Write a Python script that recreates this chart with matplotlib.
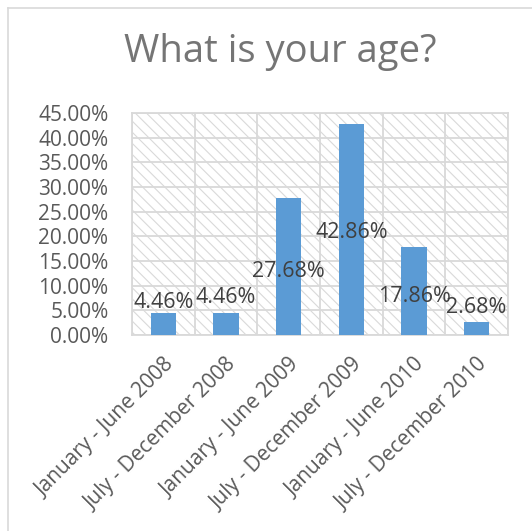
import matplotlib
matplotlib.use("Agg")
import matplotlib.pyplot as plt
from matplotlib.patches import Rectangle
from matplotlib.lines import Line2D
import numpy as np

categories = [
    "January - June 2008",
    "July - December 2008",
    "January - June 2009",
    "July - December 2009",
    "January - June 2010",
    "July - December 2010",
]
shares = [4.46, 4.46, 27.68, 42.86, 17.86, 2.68]
# baseline heights (in % units) where each value label sits
label_baseline = [5.5, 6.5, 11.8, 19.7, 6.7, 4.5]
yticks = np.arange(0, 46, 5)

plt.rcParams["font.family"] = ["Open Sans", "DejaVu Sans"]
plt.rcParams["hatch.linewidth"] = 0.8

fig = plt.figure(figsize=(5.32, 5.31), dpi=100)
ax = fig.add_axes([132 / 532, 196 / 531, 376 / 532, 222 / 531])

grid_c = "#d9d9d9"
x = np.arange(len(categories))

# hatched plot-area background
ax.patch.set_visible(False)
bg = Rectangle((0, 0), 1, 1, transform=ax.transAxes, facecolor="white",
               edgecolor=grid_c, hatch="\\\\\\", linewidth=0, zorder=0)
ax.add_patch(bg)

ax.bar(x, shares, width=0.4, color="#5b9bd5", zorder=3)

ax.set_xlim(-0.5, len(categories) - 0.5)
ax.set_ylim(0, 45)
ax.set_yticks(yticks)
ax.set_yticklabels([f"{v:.2f}%" for v in yticks], fontsize=15, color="#595959")
ax.set_xticks(x)
ax.set_xticklabels(categories, rotation=45, ha="right", va="top",
                   rotation_mode="anchor", fontsize=15, color="#595959")
ax.tick_params(axis="both", length=0)
ax.tick_params(axis="y", pad=17)
ax.tick_params(axis="x", pad=14)

for yv in yticks:
    ax.axhline(yv, color=grid_c, lw=1.3, zorder=1)
for xv in np.arange(-0.5, len(categories), 1.0):
    ax.axvline(xv, color=grid_c, lw=1.3, zorder=1)
for s in ax.spines.values():
    s.set_color(grid_c)
    s.set_linewidth(1.3)

for xi, v, yb in zip(x, shares, label_baseline):
    ax.text(xi, yb, f"{v:.2f}%", ha="center", va="baseline",
            fontsize=15.5, color="#404040", zorder=4)

fig.text(280 / 532, 1 - 62 / 531, "What is your age?", ha="center",
         va="baseline", fontsize=27.5, color="#757575")

# outer chart frame
fx = 7.5 / 532
fy = 1 - 7.5 / 531
fig.add_artist(Line2D([fx, 1], [fy, fy], transform=fig.transFigure,
                      color=grid_c, lw=1.2))
fig.add_artist(Line2D([fx, fx], [0, fy], transform=fig.transFigure,
                      color=grid_c, lw=1.2))

fig.savefig("out.png", dpi=100, facecolor="white")
